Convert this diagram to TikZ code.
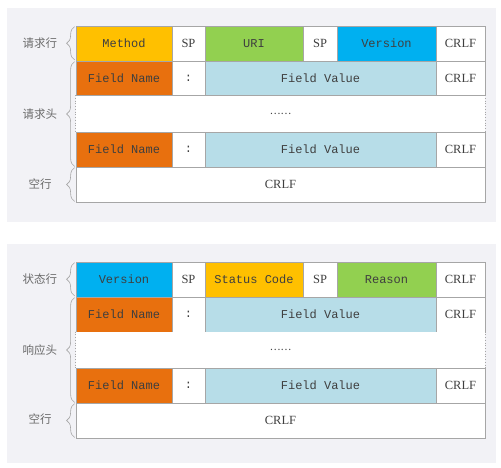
\documentclass[tikz,border=0pt]{standalone}
\usepackage{fontspec}
\setmainfont{Liberation Serif}
\setmonofont{Liberation Mono}
\newfontfamily\cjk{Noto Sans CJK SC}
\usetikzlibrary{decorations.pathreplacing}
\definecolor{bgc}{HTML}{F2F2F6}
\definecolor{gold}{HTML}{FFC000}
\definecolor{orng}{HTML}{E8700E}
\definecolor{grn}{HTML}{92D050}
\definecolor{blu}{HTML}{00B0F0}
\definecolor{lblu}{HTML}{B7DDE8}
\definecolor{edge}{HTML}{A6A6A6}
\definecolor{txt}{HTML}{3F3F3F}
\definecolor{lbltxt}{HTML}{6A6A6A}
\tikzset{
  cell/.style={draw=edge, line width=0.75pt, inner sep=0pt, text=txt, fill=white,
    font=\fontsize{12.5}{12.5}\selectfont},
  mono/.style={font=\ttfamily\fontsize{12}{12}\selectfont},
  lbl/.style={text=lbltxt, font=\cjk\fontsize{11.5}{11.5}\selectfont},
  brc/.style={draw=edge, line width=0.6pt, decorate, decoration={brace, amplitude=8pt}},
  panel/.style={fill=bgc, draw=none},
  dotsep/.style={draw=edge, line width=0.75pt, dotted}
}
\newcommand\mkcell[7][]{%
  \node[cell,#1,minimum width={(#5-#3)*1pt},minimum height={(#6-#4)*1pt}]
    (#2) at ({(#3+#5)/2},{(#4+#6)/2}) {#7};}
\begin{document}
\begin{tikzpicture}[x=1pt,y=-1pt]
\useasboundingbox (0,0) rectangle (501,467);
\fill[white] (0,0) rectangle (501,467);
% panels
\fill[panel] (7,8) rectangle (496,222);
\fill[panel] (7,244) rectangle (496,463);

% ---------------- request ----------------
\mkcell[fill=gold,mono]{qm}{76}{26}{172}{61}{Method}
\mkcell{qsp1}{172}{26}{205}{61}{SP}
\mkcell[fill=grn,mono]{quri}{205}{26}{303}{61}{URI}
\mkcell{qsp2}{303}{26}{337}{61}{SP}
\mkcell[fill=blu,mono]{qver}{337}{26}{436}{61}{Version}
\mkcell{qcr1}{436}{26}{485}{61}{CRLF}

\mkcell[fill=orng,mono]{qfn1}{76}{61}{172}{95.5}{Field Name}
\mkcell[mono]{qcol1}{172}{61}{205}{95.5}{:}
\mkcell[fill=lblu,mono]{qfv1}{205}{61}{436}{95.5}{Field Value}
\mkcell{qcr2}{436}{61}{485}{95.5}{CRLF}

\mkcell[draw=none]{qdots}{76}{95.5}{485}{132}{\cjk\fontsize{10}{10}\selectfont ……}
\draw[dotsep] (qdots.north west) -- (qdots.south west);
\draw[dotsep] (qdots.north east) -- (qdots.south east);

\mkcell[fill=orng,mono]{qfn2}{76}{132}{172}{167}{Field Name}
\mkcell[mono]{qcol2}{172}{132}{205}{167}{:}
\mkcell[fill=lblu,mono]{qfv2}{205}{132}{436}{167}{Field Value}
\mkcell{qcr3}{436}{132}{485}{167}{CRLF}

\mkcell{qcr4}{76}{167}{485}{202}{CRLF}

\draw[brc] ([xshift=-1pt,yshift=1.5pt]qm.south west) -- ([xshift=-1pt,yshift=-1pt]qm.north west);
\draw[brc] ([xshift=-1pt,yshift=1pt]qfn2.south west) -- ([xshift=-1pt,yshift=-1pt]qfn1.north west);
\draw[brc] ([xshift=-1pt,yshift=1pt]qcr4.south west) -- ([xshift=-1pt,yshift=-1pt]qcr4.north west);
\node[lbl] (ql1) at (40,43.5) {请求行};
\node[lbl] (ql2) at (40,114.5) {请求头};
\node[lbl] (ql3) at (40,184) {空行};

% ---------------- response ----------------
\mkcell[fill=blu,mono]{rver}{76}{262}{172}{297}{Version}
\mkcell{rsp1}{172}{262}{205}{297}{SP}
\mkcell[fill=gold,mono]{rsc}{205}{262}{303}{297}{Status Code}
\mkcell{rsp2}{303}{262}{337}{297}{SP}
\mkcell[fill=grn,mono]{rrs}{337}{262}{436}{297}{Reason}
\mkcell{rcr1}{436}{262}{485}{297}{CRLF}

\mkcell[fill=orng,mono]{rfn1}{76}{297}{172}{332}{Field Name}
\mkcell[mono]{rcol1}{172}{297}{205}{332}{:}
\mkcell[fill=lblu,mono]{rfv1}{205}{297}{436}{332}{Field Value}
\mkcell{rcr2}{436}{297}{485}{332}{CRLF}

\mkcell[draw=none]{rdots}{76}{332}{485}{368}{\cjk\fontsize{10}{10}\selectfont ……}
\draw[dotsep] (rdots.north west) -- (rdots.south west);
\draw[dotsep] (rdots.north east) -- (rdots.south east);

\mkcell[fill=orng,mono]{rfn2}{76}{368}{172}{403}{Field Name}
\mkcell[mono]{rcol2}{172}{368}{205}{403}{:}
\mkcell[fill=lblu,mono]{rfv2}{205}{368}{436}{403}{Field Value}
\mkcell{rcr3}{436}{368}{485}{403}{CRLF}

\mkcell{rcr4}{76}{403}{485}{438}{CRLF}

\draw[brc] ([xshift=-1pt,yshift=1.5pt]rver.south west) -- ([xshift=-1pt,yshift=-1pt]rver.north west);
\draw[brc] ([xshift=-1pt,yshift=1pt]rfn2.south west) -- ([xshift=-1pt,yshift=-1pt]rfn1.north west);
\draw[brc] ([xshift=-1pt,yshift=1pt]rcr4.south west) -- ([xshift=-1pt,yshift=-1pt]rcr4.north west);
\node[lbl] (rl1) at (40,279.5) {状态行};
\node[lbl] (rl2) at (40,350.5) {响应头};
\node[lbl] (rl3) at (40,419.5) {空行};
\end{tikzpicture}
\end{document}
